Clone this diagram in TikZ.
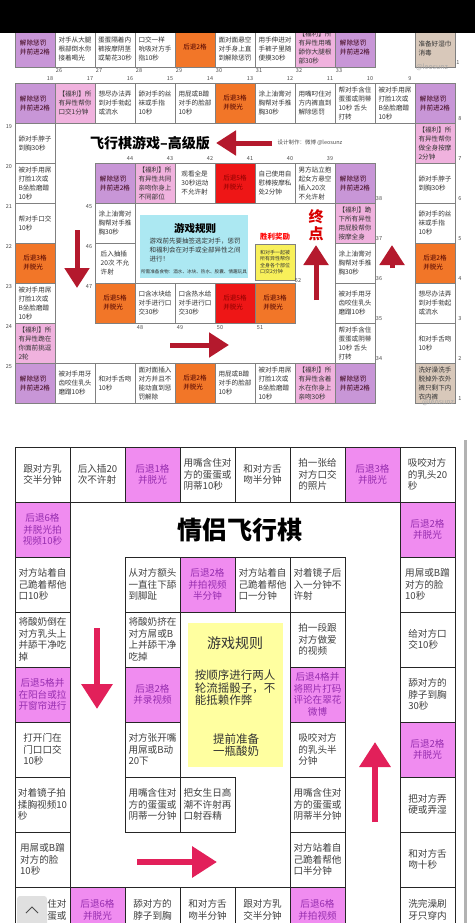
\documentclass[tikz,border=0pt]{standalone}
\usepackage{fontspec}
\newfontfamily\cjk{Noto Sans CJK SC}
\usetikzlibrary{arrows.meta}

\definecolor{tpurple}{RGB}{200,150,215}
\definecolor{tpink}{RGB}{240,178,222}
\definecolor{torange}{RGB}{242,118,40}
\definecolor{tred}{RGB}{238,22,22}
\definecolor{tbeige}{RGB}{216,200,186}
\definecolor{tcyan}{RGB}{172,232,242}
\definecolor{tyellow}{RGB}{248,240,90}
\definecolor{bpink}{RGB}{240,140,240}
\definecolor{bpinktext}{RGB}{150,45,175}
\definecolor{byellow}{RGB}{255,255,160}
\definecolor{arrowdark}{RGB}{180,25,45}
\definecolor{arrowpink}{RGB}{226,32,90}

\tikzset{
  tcell/.style={draw=black!50, line width=0.5pt, minimum width=40pt, minimum height=40pt,
    inner sep=1pt, align=left, text=black!80, font=\cjk\fontsize{6.6}{9}\selectfont},
  bcell/.style={draw=black!85, line width=1pt, minimum width=55pt, minimum height=55pt,
    inner sep=1pt, align=left, text=black!75, font=\cjk\fontsize{9.6}{11.6}\selectfont},
  btext/.style={inner sep=0pt, align=left, text=black!75, font=\cjk\fontsize{9.6}{11.6}\selectfont},
  purp/.style={fill=tpurple, text=black!70!purple},
  pinkc/.style={fill=tpink},
  orng/.style={fill=torange, text=black!70!red},
  redc/.style={fill=tred, text=red!55!black},
  beig/.style={fill=tbeige},
  bpk/.style={fill=bpink, text=bpinktext, align=center},
  num/.style={font=\cjk\fontsize{5.5}{6}\selectfont, text=black!70, inner sep=0pt},
  tarrow/.style={line width=5pt, draw=arrowdark, -{Triangle[width=24pt,length=20pt]}},
  barrow/.style={line width=6.5pt, draw=arrowpink, -{Triangle[width=30pt,length=25pt]}},
}

\begin{document}
\begin{tikzpicture}[x=1pt,y=-1pt]
  \clip (0,0) rectangle (475,923);
  \fill[white] (0,0) rectangle (475,923);

  % last row of the first board, cut by the bar
  \node[tcell,purp]  (a25) at (35,47)  {解除惩罚\\并前进2格};
  \node[tcell]       (a26) at (75,47)  {\mbox{}\\对手从大腿\\根部倒水你\\接着喝光};
  \node[tcell]       (a27) at (115,47) {\mbox{}\\蛋蛋隔着内\\裤按摩阴茎\\或菊花30秒};
  \node[tcell]       (a28) at (155,47) {\mbox{}\\口交一样\\吮吸对方手\\指10秒};
  \node[tcell,orng]  (a29) at (195,47) {后退2格};
  \node[tcell]       (a30) at (235,47) {\mbox{}\\面对面悬空\\对手身上直\\到解除惩罚};
  \node[tcell]       (a31) at (275,47) {\mbox{}\\用手伸进对\\手裤子里随\\便摸30秒};
  \node[tcell,pinkc] (a32) at (315,47) {【福利】所\\有异性用嘴\\舔你大腿根\\部30秒};
  \node[tcell,purp]  (a33) at (355,47) {解除惩罚\\并前进2格};
  \node[tcell,beig]  (a1)  at (435,47) {\mbox{}\\准备好湿巾\\消毒};
  \foreach \n/\x in {26/59,27/99,28/139,29/179,30/219,31/259,32/299,33/339}
    \node[num] (ra\n) at (\x,71) {\n};
  \node[num] (ra1) at (458,63) {1};
  \fill[black] (0,0) rectangle (475,33);
  \node[text=black!35, font=\cjk\fontsize{7}{7}\selectfont] (wm1) at (432,67) {@leosunz};

  % outer right column
  \node[tcell,beig]  (t1) at (435,383) {洗好澡洗手\\脱掉外衣外\\裤只剩下内\\衣内裤};
  \node[tcell]       (t2) at (435,343) {和对手舌吻\\10秒};
  \node[tcell]       (t3) at (435,303) {想尽办法弄\\到对手勃起\\或流水};
  \node[tcell,orng]  (t4) at (435,263) {后退2格\\并脱光};
  \node[tcell]       (t5) at (435,223) {舔对手的丝\\袜或手指\\10秒};
  \node[tcell]       (t6) at (435,183) {舔对手脖子\\到胸30秒};
  \node[tcell,pinkc] (t7) at (435,143) {【福利】所\\有异性帮你\\做全身按摩\\2分钟};
  \node[tcell,purp]  (t8) at (435,103) {解除惩罚\\并前进2格};
  % outer top row
  \node[tcell]       (t9)  at (395,103) {被对手用屌\\打脸1次或\\B坐脸磨蹭\\10秒};
  \node[tcell]       (t10) at (355,103) {帮对手含住\\蛋蛋或阴蒂\\10秒 舌头\\打转};
  \node[tcell]       (t11) at (315,103) {用嘴叼住对\\方内裤直到\\解除惩罚};
  \node[tcell]       (t12) at (275,103) {涂上油膏对\\胸帮对手推\\胸30秒};
  \node[tcell,orng]  (t13) at (235,103) {后退3格\\并脱光};
  \node[tcell]       (t14) at (195,103) {用屁或B蹭\\对手的脸部\\10秒};
  \node[tcell]       (t15) at (155,103) {舔对手的丝\\袜或手指\\10秒};
  \node[tcell]       (t16) at (115,103) {想尽办法弄\\到对手勃起\\或流水};
  \node[tcell,pinkc] (t17) at (75,103)  {【福利】所\\有异性帮你\\口交1分钟};
  \node[tcell,purp]  (t18) at (35,103)  {解除惩罚\\并前进2格};
  % outer left column
  \node[tcell]       (t19) at (35,143) {舔对手脖子\\到胸30秒};
  \node[tcell]       (t20) at (35,183) {被对手用屌\\打脸1次或\\B坐脸磨蹭\\10秒};
  \node[tcell]       (t21) at (35,223) {帮对手口交\\10秒};
  \node[tcell,orng]  (t22) at (35,263) {后退3格\\并脱光};
  \node[tcell]       (t23) at (35,303) {被对手用屌\\打脸1次或\\B坐脸磨蹭\\10秒};
  \node[tcell,pinkc] (t24) at (35,343) {【福利】所\\有异性跪在\\你面前挑逗\\2轮};
  \node[tcell,purp]  (t25) at (35,383) {解除惩罚\\并前进2格};
  % outer bottom row
  \node[tcell]       (t26) at (75,383)  {被对手用牙\\齿咬住乳头\\磨蹭10秒};
  \node[tcell]       (t27) at (115,383) {和对手舌吻\\10秒};
  \node[tcell]       (t28) at (155,383) {面对面插入\\对方并且不\\能动直到惩\\罚解除};
  \node[tcell,orng]  (t29) at (195,383) {后退2格\\并脱光};
  \node[tcell]       (t30) at (235,383) {用屁或B蹭\\对手的脸部\\10秒};
  \node[tcell]       (t31) at (275,383) {被对手用屌\\打脸1次或\\B坐脸磨蹭\\10秒};
  \node[tcell,pinkc] (t32) at (315,383) {【福利】所\\有异性含着\\水在你身上\\亲吻30秒};
  \node[tcell,purp]  (t33) at (355,383) {解除惩罚\\并前进2格};
  % inner ring
  \node[tcell]       (t34) at (355,343) {帮对手含住\\蛋蛋或阴蒂\\10秒 舌头\\打转};
  \node[tcell]       (t35) at (355,303) {被对手用牙\\齿咬住乳头\\磨蹭10秒};
  \node[tcell]       (t36) at (355,263) {涂上油膏对\\胸帮对手推\\胸30秒};
  \node[tcell,pinkc] (t37) at (355,223) {【福利】跪\\下所有异性\\用屁股帮你\\按摩全身};
  \node[tcell,purp]  (t38) at (355,183) {解除惩罚\\并前进2格};
  \node[tcell]       (t39) at (315,183) {男方站立抱\\起女方悬空\\插入20次\\不允许射};
  \node[tcell]       (t40) at (275,183) {自己使用自\\慰棒按摩私\\处2分钟};
  \node[tcell,redc]  (t41) at (235,183) {后退5格\\并脱光};
  \node[tcell]       (t42) at (195,183) {观看全是\\30秒运动\\不允许射};
  \node[tcell,pinkc] (t43) at (155,183) {【福利】所\\有异性共同\\亲吻你身上\\不同部位};
  \node[tcell,purp]  (t44) at (115,183) {解除惩罚\\并前进2格};
  \node[tcell]       (t45) at (115,223) {涂上油膏对\\胸帮对手推\\胸30秒};
  \node[tcell]       (t46) at (115,263) {后入抽插\\20次 不允\\许射};
  \node[tcell,orng]  (t47) at (115,303) {后退5格\\并脱光};
  \node[tcell]       (t48) at (155,303) {口含冰块给\\对手进行口\\交30秒};
  \node[tcell]       (t49) at (195,303) {口含热水给\\对手进行口\\交30秒};
  \node[tcell,redc]  (t50) at (235,303) {后退5格\\并脱光};
  \node[tcell,orng]  (t51) at (275,303) {后退3格\\并脱光};
  \node[tcell, fill=tyellow, minimum height=36pt, font=\cjk\fontsize{5}{6.5}\selectfont]
    (t52) at (275,262) {和对手一起被\\所有异性帮你\\全身各个部位\\口交2分钟};
  \node[text=red, font=\cjk\bfseries\fontsize{7.5}{8}\selectfont] (win) at (275,237) {胜利奖励};

  \foreach \n/\y in {1/399,2/359,3/319,4/279,5/239,6/199,7/159,8/119}
    \node[num] (n\n) at (460,\y) {\n};
  \foreach \n/\x in {9/410,10/370,11/330,12/290,13/250,14/210,15/170,16/130,17/90,18/50}
    \node[num] (n\n) at (\x,79) {\n};
  \foreach \n/\y in {19/127,20/167,21/207,22/247,23/287,24/327,25/367}
    \node[num] (n\n) at (9,\y) {\n};
  \foreach \n/\y in {34/359,35/319,36/279,37/239,38/199}
    \node[num] (n\n) at (379,\y) {\n};
  \foreach \n/\x in {39/330,40/290,41/250,42/210,43/170,44/130}
    \node[num] (n\n) at (\x,159) {\n};
  \foreach \n/\y in {45/207,46/247,47/287}
    \node[num] (n\n) at (89,\y) {\n};
  \foreach \n/\x in {48/140,49/180,50/220,51/260}
    \node[num] (n\n) at (\x,328) {\n};
  \node[num] (n52) at (298,281) {52};

  % title and rules of the upper board
  \node[font=\cjk\bfseries\fontsize{14}{14}\selectfont] (ttitle) at (150,143) {飞行棋游戏–高级版};
  \node[anchor=west, font=\cjk\fontsize{5.5}{6}\selectfont, text=black!70] (tdesign) at (274,143) {设计制作：微博 @leosunz};
  \fill[tcyan] (140,215) rectangle (248,278);
  \node[font=\cjk\bfseries\fontsize{10.5}{11}\selectfont] (trules) at (195,228) {游戏规则};
  \node[align=left, font=\cjk\fontsize{6.5}{9}\selectfont, text=black!80] (trtext) at (195,250)
    {游戏前先要抽签选定对手，惩罚\\和福利会在对手或全部异性之间\\进行！};
  \node[font=\cjk\fontsize{4.6}{5}\selectfont, text=black!80] (tfood) at (194,272)
    {所需准备食物：酒水、冰块、热水、胶囊、情趣玩具};
  \node[text=red!85!black, align=center, font=\cjk\bfseries\fontsize{15}{17}\selectfont] (tend) at (316,225) {终\\点};

  \coordinate (ta1) at (272,143); \coordinate (ta2) at (216,143);
  \coordinate (tb1) at (77,230);  \coordinate (tb2) at (77,288);
  \coordinate (tc1) at (170,345); \coordinate (tc2) at (229,345);
  \coordinate (td1) at (316,300); \coordinate (td2) at (316,245);
  \coordinate (te1) at (392,268); \coordinate (te2) at (392,245);
  \draw[tarrow] (ta1) -- (ta2);
  \draw[tarrow] (tb1) -- (tb2);
  \draw[tarrow] (tc1) -- (tc2);
  \draw[tarrow] (td1) -- (td2);
  \draw[tarrow] (te1) -- (te2);
  \node[text=black!35, font=\cjk\fontsize{7}{7}\selectfont] (wm2) at (438,402) {@leosunz};

  % lower board
  \draw[black!30, line width=3pt] (465,440) -- (465,923);
  \node[bcell]     (b00) at (42.5,474.5)  {跟对方乳\\交半分钟};
  \node[bcell]     (b01) at (97.5,474.5)  {后入插20\\次不许射};
  \node[bcell,bpk] (b02) at (152.5,474.5) {后退1格\\并脱光};
  \node[bcell]     (b03) at (207.5,474.5) {用嘴含住对\\方的蛋蛋或\\阴蒂10秒};
  \node[bcell]     (b04) at (262.5,474.5) {和对方舌\\吻半分钟};
  \node[bcell]     (b05) at (317.5,474.5) {拍一张给\\对方口交\\的照片};
  \node[bcell,bpk] (b06) at (372.5,474.5) {后退3格\\并脱光};
  \node[bcell]     (b07) at (427.5,474.5) {吸咬对方\\的乳头20\\秒};

  \node[bcell,bpk] (b10) at (42.5,529.5)  {后退6格\\并脱光拍\\视频10秒};
  \node[bcell,bpk] (b17) at (427.5,529.5) {后退2格\\并脱光};

  \node[bcell]     (b20) at (42.5,584.5)  {对方站着自\\己跪着帮他\\口10秒};
  \node[bcell]     (b22) at (152.5,584.5) {从对方额头\\一直往下舔\\到脚趾};
  \node[bcell,bpk] (b23) at (207.5,584.5) {后退2格\\并拍视频\\半分钟};
  \node[bcell]     (b24) at (262.5,584.5) {对方站着自\\己跪着帮他\\口一分钟};
  \node[bcell]     (b25) at (317.5,584.5) {对着镜子后\\入一分钟不\\许射};
  \node[bcell]     (b27) at (427.5,584.5) {用屌或B蹭\\对方的脸\\10秒};

  \node[bcell]     (b30) at (42.5,639.5)  {将酸奶倒在\\对方乳头上\\并舔干净吃\\掉};
  \node[bcell]     (b32) at (152.5,639.5) {将酸奶挤在\\对方屌或B\\上并舔干净\\吃掉};
  \node[bcell]     (b35) at (317.5,639.5) {拍一段跟\\对方做爱\\的视频};
  \node[bcell]     (b37) at (427.5,639.5) {给对方口\\交10秒};

  \node[bcell,bpk] (b40) at (42.5,694.5)  {后退5格并\\在阳台或拉\\开窗帘进行};
  \node[bcell,bpk] (b42) at (152.5,694.5) {后退2格\\并录视频};
  \node[bcell,bpk] (b45) at (317.5,694.5) {后退4格并\\将照片打码\\评论在翠花\\微博};
  \node[bcell]     (b47) at (427.5,694.5) {舔对方的\\脖子到胸\\30秒};

  \node[bcell]     (b50) at (42.5,749.5)  {打开门在\\门口口交\\10秒};
  \node[bcell]     (b52) at (152.5,749.5) {对方张开嘴\\用屌或B动\\20下};
  \node[bcell]     (b55) at (317.5,749.5) {吸咬对方\\的乳头半\\分钟};
  \node[bcell,bpk] (b57) at (427.5,749.5) {后退2格\\并脱光};

  \node[bcell]     (b60) at (42.5,804.5)  {对着镜子拍\\揉胸视频10\\秒};
  \node[bcell]     (b62) at (152.5,804.5) {用嘴含住对\\方的蛋蛋或\\阴蒂一分钟};
  \node[bcell]     (b63) at (207.5,804.5) {把女生日高\\潮不许射再\\口射吞精};
  \node[bcell]     (b65) at (317.5,804.5) {用嘴含住对\\方的蛋蛋或\\阴蒂半分钟};
  \node[bcell]     (b67) at (427.5,804.5) {把对方弄\\硬或弄湿};

  \node[bcell]     (b70) at (42.5,859.5)  {用屌或B蹭\\对方的脸\\10秒};
  \node[bcell]     (b75) at (317.5,859.5) {对方站着自\\己跪着帮他\\口半分钟};
  \node[bcell]     (b77) at (427.5,859.5) {和对方舌\\吻十秒};

  % last row, cut by the page edge
  \node[bcell]            (b80) at (42.5,914.5)  {};
  \node[bcell,fill=bpink] (b81) at (97.5,914.5)  {};
  \node[bcell]            (b82) at (152.5,914.5) {};
  \node[bcell]            (b83) at (207.5,914.5) {};
  \node[bcell]            (b84) at (262.5,914.5) {};
  \node[bcell,fill=bpink] (b85) at (317.5,914.5) {};
  \node[bcell]            (b87) at (427.5,914.5) {};
  \node[btext] (b80t) at (42.5,910)  {用嘴含住对\\方的蛋蛋或};
  \node[btext, text=bpinktext, align=center] (b81t) at (97.5,910) {后退6格\\并脱光};
  \node[btext] (b82t) at (152.5,910) {舔对方的\\脖子到胸};
  \node[btext] (b83t) at (207.5,910) {和对方舌\\吻半分钟};
  \node[btext] (b84t) at (262.5,910) {跟对方乳\\交半分钟};
  \node[btext, text=bpinktext, align=center] (b85t) at (317.5,910) {后退6格\\并拍视频};
  \node[btext] (b87t) at (427.5,910) {洗完澡刷\\牙只穿内};
  \fill[black!12, rounded corners=3pt] (17,896) rectangle (47,930);
  \draw[black!70, line width=1pt] (26,913) -- (32,907) -- (38,913);

  \node[font=\cjk\bfseries\fontsize{25}{25}\selectfont] (btitle) at (240,530) {情侣飞行棋};
  \fill[byellow] (188,623) rectangle (283,767);
  \node[font=\cjk\fontsize{14}{14}\selectfont, text=black!80] (brules) at (235,643) {游戏规则};
  \node[align=left, font=\cjk\fontsize{11.5}{12.5}\selectfont, text=black!80] (brtext) at (235,688)
    {按顺序进行两人\\轮流摇骰子，不\\能抵赖作弊};
  \node[align=center, font=\cjk\fontsize{11.5}{12.5}\selectfont, text=black!80] (bprep) at (236,745)
    {提前准备\\一瓶酸奶};

  \coordinate (ba1) at (97,628);  \coordinate (ba2) at (97,709);
  \coordinate (bb1) at (137,862); \coordinate (bb2) at (217,862);
  \coordinate (bc1) at (375,822); \coordinate (bc2) at (375,742);
  \draw[barrow] (ba1) -- (ba2);
  \draw[barrow] (bb1) -- (bb2);
  \draw[barrow] (bc1) -- (bc2);
\end{tikzpicture}
\end{document}
